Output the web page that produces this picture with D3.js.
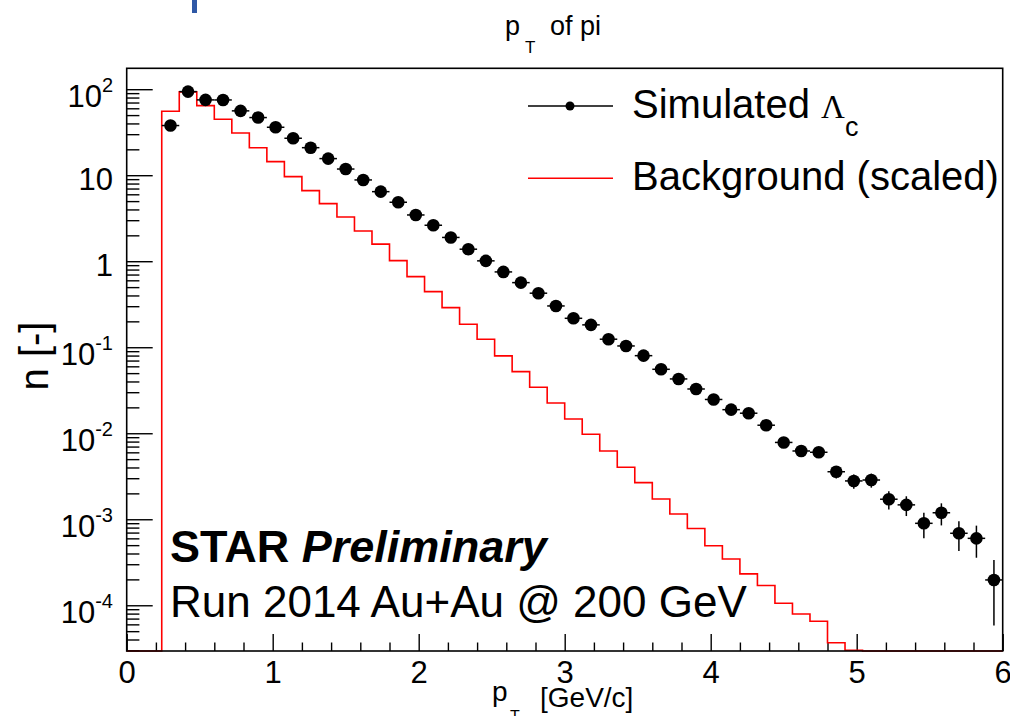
<!DOCTYPE html>
<html><head><meta charset="utf-8">
<script src="https://cdn.jsdelivr.net/npm/d3@7"></script>
<style>
body{margin:0;background:#fff}
svg{display:block}
text{font-family:"Liberation Sans",Arial,Helvetica,sans-serif;fill:#000}
</style>
</head><body>
<svg id="c" width="1010" height="716"></svg>
<script>
// ---------- data ----------
const signalPt = [0.30,0.42,0.54,0.66,0.78,0.90,1.02,1.14,1.26,1.38,1.50,1.62,1.74,1.86,1.98,2.10,2.22,2.34,2.46,2.58,
  2.70,2.82,2.94,3.06,3.18,3.30,3.42,3.54,3.66,3.78,3.90,4.02,4.14,4.26,4.38,4.50,4.62,4.74,4.86,4.98,
  5.10,5.22,5.34,5.46,5.58,5.70,5.82,5.94];
const signalValues = [37.8,93.8,75.1,75.0,56.0,46.8,36.1,26.9,20.9,15.6,11.8,8.81,6.44,4.85,3.45,2.62,1.89,1.38,1.01,0.751,
  0.564,0.425,0.302,0.217,0.182,0.124,0.1035,0.0798,0.0554,0.0428,0.0327,0.0247,0.0188,0.0171,0.0124,0.00782,0.00622,0.00601,0.00357,0.00279,
  0.00286,0.00171,0.00147,8.97e-4,1.19e-3,6.87e-4,6.0e-4,1.97e-4];
const signalErrors = [0.0609,0.0959,0.0858,0.0857,0.0741,0.0677,0.0595,0.0513,0.0453,0.0391,0.0340,0.0294,0.0251,0.0218,0.0184,0.0160,0.0136,0.0116,0.00995,0.00858,
  0.00743,0.00645,0.00544,0.00461,0.00422,0.00349,0.00318,0.00280,0.00233,0.00205,0.00179,0.00156,0.00136,0.00129,0.00110,8.75e-4,7.81e-4,7.67e-4,5.92e-4,5.23e-4,
  5.29e-4,4.09e-4,3.80e-4,2.96e-4,3.42e-4,2.59e-4,2.43e-4,1.39e-4];
const signalHalfWidth = 0.06;
// background histogram: 50 bins of 0.12 GeV/c from 0 to 6
const bkgBinWidth = 0.12;
const bkgValues = [0,0,55.5,93,64.4,44.8,31.0,20.9,14.4,9.63,6.62,4.68,3.27,2.25,1.58,1.016,0.662,0.443,0.289,0.185,
  0.124,0.0793,0.0520,0.0343,0.0225,0.01466,0.00973,0.00622,0.00403,0.00267,0.00172,0.00115,7.82e-4,4.93e-4,3.45e-4,2.32e-4,1.70e-4,1.055e-4,7.92e-5,6.52e-5,
  3.66e-5,3.0e-5,0,0,0,0,0,0,0,0];
const xTickValues = [0,1,2,3,4,5,6];
const xTickLabels = ["0","1","2","3","4","5","6"];
const yTickValues = [1e2,1e1,1,1e-1,1e-2,1e-3,1e-4];
const yTickBase = ["10","10","1","10","10","10","10"];
const yTickExp = ["2","","","-1","-2","-3","-4"];
const legendLabels = ["Simulated ", "Background (scaled)"];

// ---------- layout ----------
const X0 = 126.7, X1 = 1002.7, YT = 68.3, YB = 651;
const svg = d3.select("#c");
const x = d3.scaleLinear().domain([0, 6]).range([X0, X1]);
const y = d3.scaleLog().domain([2.94e-5, 175]).range([YB, YT]).clamp(true);

// blue mark at top (slide artefact)
svg.append("rect").attr("x",192).attr("y",0).attr("width",5).attr("height",13).attr("fill","#2f58a6");

// title
svg.append("text").attr("x",505).attr("y",35).attr("font-size",27).text("p");
svg.append("text").attr("x",525).attr("y",53).attr("font-size",17).text("T");
svg.append("text").attr("x",550).attr("y",35).attr("font-size",27).text("of pi");

// axes ticks
const yMinor = [];
for (let k = -5; k <= 2; k++) for (let m = 2; m <= 9; m++) {
  const v = m * Math.pow(10, k);
  if (v > y.domain()[0] && v < y.domain()[1]) yMinor.push(v);
}
const gy1 = svg.append("g").attr("transform",`translate(${X0},0)`)
  .call(d3.axisLeft(y).tickValues(yTickValues).tickSize(-26).tickFormat(""));
const gy2 = svg.append("g").attr("transform",`translate(${X0},0)`)
  .call(d3.axisLeft(y).tickValues(yMinor).tickSize(-12.7).tickFormat(""));
const xMinor = d3.range(0, 6.0001, 0.2).filter(v => Math.abs(v - Math.round(v)) > 1e-6);
const gx1 = svg.append("g").attr("transform",`translate(0,${YB})`)
  .call(d3.axisBottom(x).tickValues(xTickValues).tickSize(-17).tickPadding(10).tickFormat((d,i)=>xTickLabels[i]));
const gx2 = svg.append("g").attr("transform",`translate(0,${YB})`)
  .call(d3.axisBottom(x).tickValues(xMinor).tickSize(-8.5).tickFormat(""));
[gy1,gy2,gx1,gx2].forEach(g => {
  g.select(".domain").remove();
  g.selectAll(".tick line").attr("stroke","#000").attr("stroke-width",1.4);
});
gx1.selectAll(".tick text").attr("font-size",31).attr("font-family",'"Liberation Sans",Arial,sans-serif').attr("fill","#000");

// y labels
yTickValues.forEach((v,i) => {
  const ty = y(v);
  const t = svg.append("text").attr("text-anchor","end").attr("x",113).attr("font-size",31);
  if (yTickExp[i]) {
    t.attr("y", ty + 17.5);
    t.append("tspan").text(yTickBase[i]);
    t.append("tspan").attr("font-size",20).attr("dy",-14.5).text(yTickExp[i]);
  } else {
    t.attr("y", ty + 14.5).text(yTickBase[i]);
  }
});

// background histogram
const edges = bkgValues.map((v,i) => i * bkgBinWidth);
const histPts = bkgValues.map((v,i) => [edges[i], v]);
histPts.push([6, bkgValues[bkgValues.length-1]]);
const stepLine = d3.line()
  .x(d => x(d[0]))
  .y(d => y(Math.max(d[1], y.domain()[0])))
  .curve(d3.curveStepAfter);
svg.append("path").attr("d", stepLine(histPts))
  .attr("fill","none").attr("stroke","#ff0000").attr("stroke-width",1.6);

// signal points with errors
const gs = svg.append("g");
signalPt.forEach((p,i) => {
  const v = signalValues[i], e = signalErrors[i];
  gs.append("line").attr("x1",x(p - signalHalfWidth)).attr("x2",x(p + signalHalfWidth))
    .attr("y1",y(v)).attr("y2",y(v)).attr("stroke","#000").attr("stroke-width",1.5);
  gs.append("line").attr("x1",x(p)).attr("x2",x(p))
    .attr("y1",y(v + e)).attr("y2",y(Math.max(v - e, y.domain()[0]))).attr("stroke","#000").attr("stroke-width",1.5);
  gs.append("circle").attr("cx",x(p)).attr("cy",y(v)).attr("r",6.3).attr("fill","#000");
});

// frame
svg.append("rect").attr("x",X0).attr("y",YT).attr("width",X1-X0).attr("height",YB-YT)
  .attr("fill","none").attr("stroke","#000").attr("stroke-width",1.6);

// legend
svg.append("line").attr("x1",528).attr("x2",613).attr("y1",106).attr("y2",106).attr("stroke","#000").attr("stroke-width",1.5);
svg.append("circle").attr("cx",570).attr("cy",106).attr("r",4.5).attr("fill","#000");
const lt = svg.append("text").attr("x",632).attr("y",118.3).attr("font-size",40);
lt.append("tspan").text(legendLabels[0]);
lt.append("tspan").attr("font-family",'"Liberation Serif","DejaVu Serif",serif').attr("font-size",33).text("\u039B");
lt.append("tspan").attr("font-size",27).attr("dy",18).text("c");
svg.append("line").attr("x1",528).attr("x2",613).attr("y1",178.3).attr("y2",178.3).attr("stroke","#ff0000").attr("stroke-width",1.5);
svg.append("text").attr("x",632).attr("y",190).attr("font-size",40).text(legendLabels[1]);

// STAR label
const st = svg.append("text").attr("x",170).attr("y",562).attr("font-size",45).attr("font-weight","bold");
st.append("tspan").text("STAR ");
st.append("tspan").attr("font-style","italic").text("Preliminary");
svg.append("text").attr("x",170).attr("y",617).attr("font-size",44).text("Run 2014 Au+Au @ 200 GeV");

// axis titles
svg.append("text").attr("x",492).attr("y",701).attr("font-size",28).text("p");
svg.append("text").attr("x",510).attr("y",722).attr("font-size",16).text("T");
svg.append("text").attr("x",540).attr("y",707).attr("font-size",28).text("[GeV/c]");
svg.append("text").attr("transform","translate(48,356) rotate(-90)").attr("text-anchor","middle")
  .attr("font-size",40).text("n [-]");
</script>
</body></html>
